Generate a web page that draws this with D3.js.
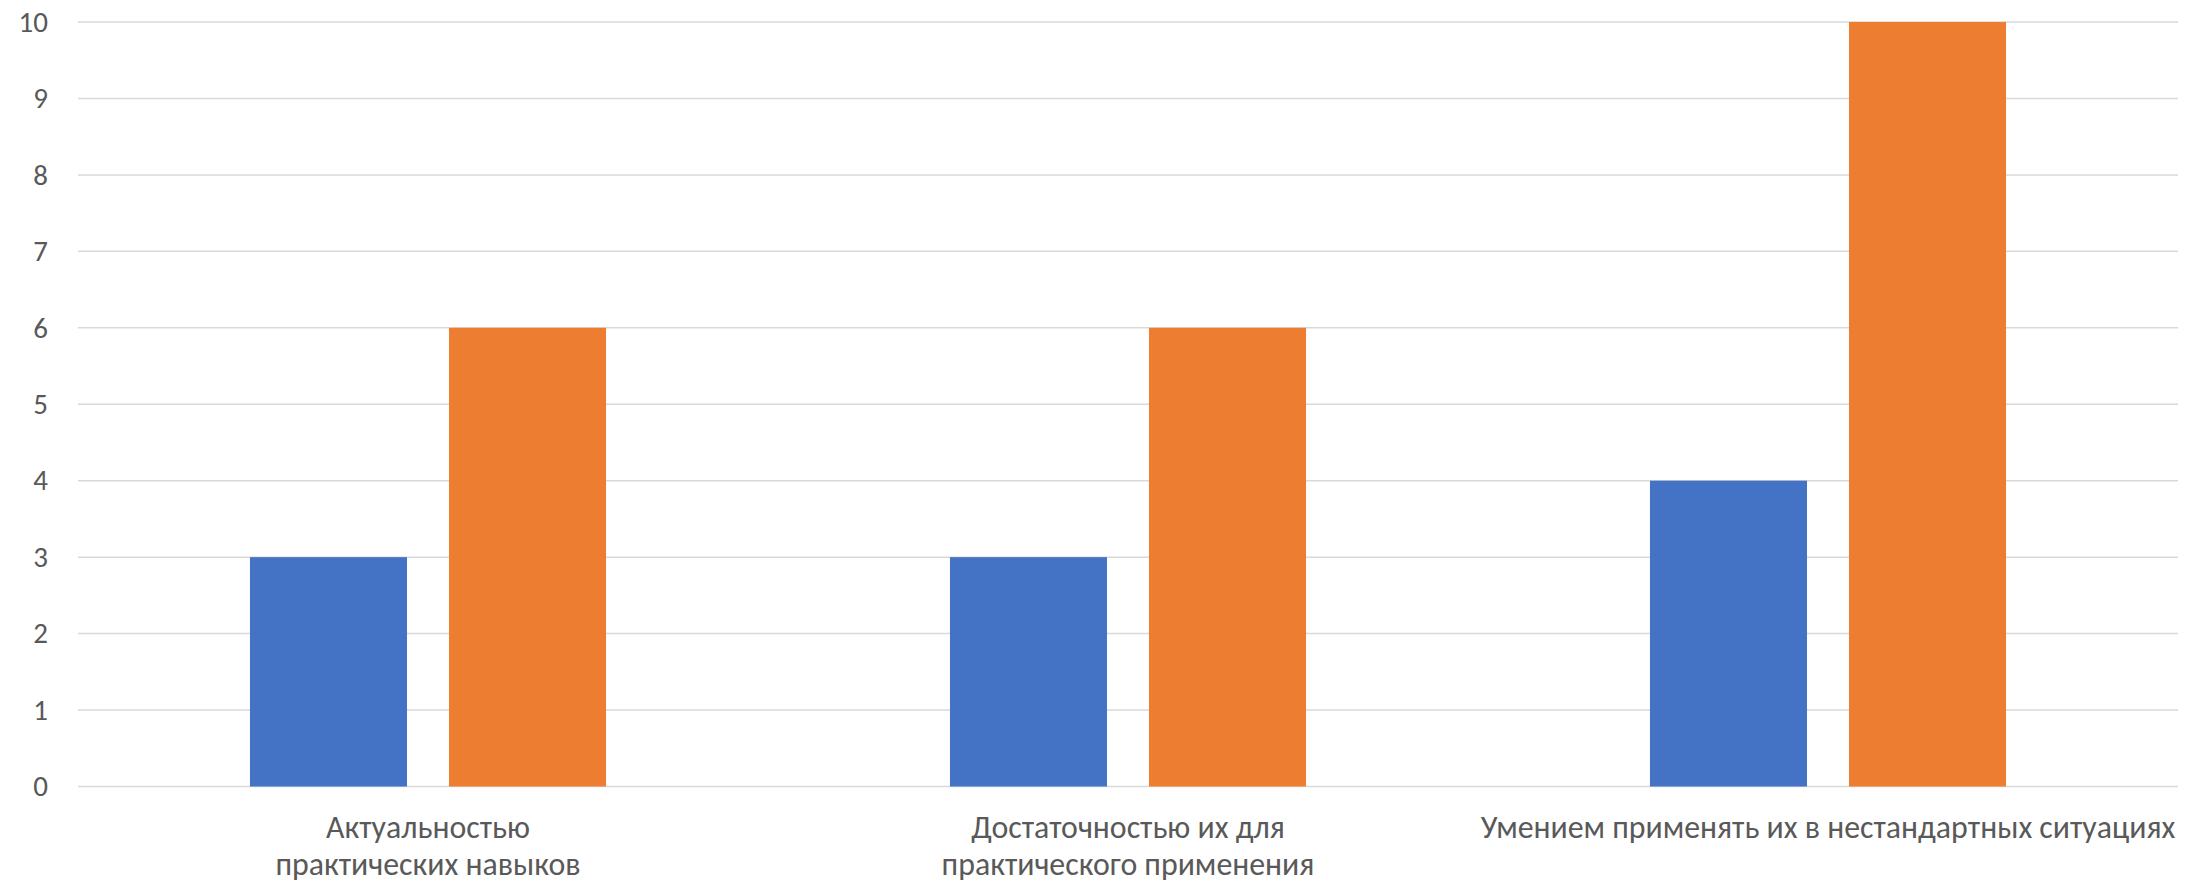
<!DOCTYPE html>
<html>
<head>
<meta charset="utf-8">
<script src="https://cdn.jsdelivr.net/npm/d3@7"></script>
<style>
  html, body { margin: 0; padding: 0; background: #fff; }
  svg { display: block; }
  text { font-family: Carlito, "Liberation Sans Narrow", "Open Sans", sans-serif; fill: #595959; }
</style>
</head>
<body>
<script>
const categories = [
  "Актуальностью практических навыков",
  "Достаточностью их для практического применения",
  "Умением применять их в нестандартных ситуациях"
];
const categoryLines = [
  ["Актуальностью", "практических навыков"],
  ["Достаточностью их для", "практического применения"],
  ["Умением применять их в нестандартных ситуациях"]
];
const seriesNames = ["Ряд 1", "Ряд 2"];
const series1 = [3, 3, 4];
const series2 = [6, 6, 10];
const yTicks = [0, 1, 2, 3, 4, 5, 6, 7, 8, 9, 10];
const colors = ["#4472C4", "#ED7D31"];

const W = 2206, H = 884;
const plot = { left: 78, right: 2178, top: 22, bottom: 786.5 };

const svg = d3.select("body").append("svg").attr("width", W).attr("height", H);

const x = d3.scaleBand().domain(categories).range([plot.left, plot.right]).padding(0);
const xSub = d3.scaleBand().domain(seriesNames).range([0, x.bandwidth()])
  .paddingInner(0.211).paddingOuter(0.864);
const y = d3.scaleLinear().domain([0, 10]).range([plot.bottom, plot.top]);

// gridlines
svg.append("g").selectAll("line").data(yTicks).join("line")
  .attr("x1", plot.left).attr("x2", plot.right)
  .attr("y1", d => y(d)).attr("y2", d => y(d))
  .attr("stroke", "#D9D9D9").attr("stroke-width", 1.5);

// y tick labels
const yAxis = d3.axisLeft(y).tickValues(yTicks).tickSize(0).tickPadding(30);
const gy = svg.append("g").attr("transform", `translate(${plot.left},0)`).call(yAxis);
gy.select(".domain").remove();
gy.selectAll("text").attr("font-size", 28).style("fill", "#595959")
  .style("font-family", 'Carlito, "Liberation Sans Narrow", "Open Sans", sans-serif');

// bars
const data = categories.map((c, i) => ({ c, vals: [series1[i], series2[i]] }));
const groups = svg.append("g").selectAll("g").data(data).join("g")
  .attr("transform", d => `translate(${x(d.c)},0)`);
groups.selectAll("rect").data(d => d.vals.map((v, j) => ({ s: seriesNames[j], v, j })))
  .join("rect")
  .attr("x", d => xSub(d.s))
  .attr("width", xSub.bandwidth())
  .attr("y", d => y(d.v))
  .attr("height", d => y(0) - y(d.v))
  .attr("fill", d => colors[d.j]);

// x labels
const lab = svg.append("g").selectAll("text").data(categories).join("text")
  .attr("x", d => x(d) + x.bandwidth() / 2)
  .attr("y", 838)
  .attr("text-anchor", "middle")
  .attr("font-size", 28);
lab.each(function(d, i) {
  const t = d3.select(this);
  categoryLines[i].forEach((ln, k) => {
    t.append("tspan").attr("x", x(d) + x.bandwidth() / 2).attr("dy", k === 0 ? 0 : 37).text(ln);
  });
});

// adjust font size so widest label matches reference width (~695px)
const third = lab.filter((d, i) => i === 2).node();
const w = third.getComputedTextLength();
if (w > 0) {
  const fs = Math.min(33, 28 * 695 / w);
  lab.attr("font-size", fs);
  gy.selectAll("text").attr("font-size", Math.min(fs, 29));
}
</script>
</body>
</html>
